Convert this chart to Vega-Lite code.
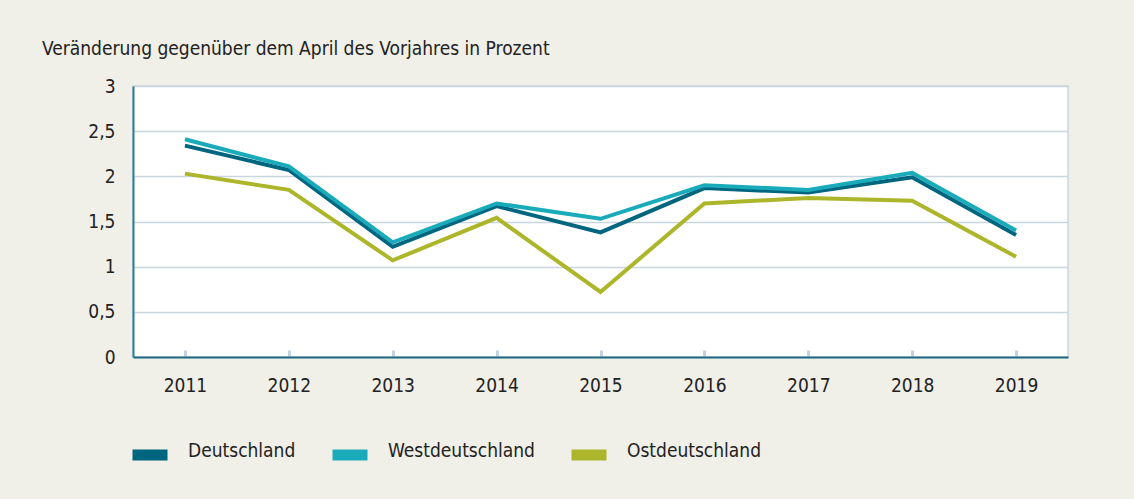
{
  "$schema": "https://vega.github.io/schema/vega-lite/v6.json",
  "width": 935,
  "height": 271,
  "autosize": "none",
  "padding": {"left": 133, "top": 86, "right": 66, "bottom": 142},
  "background": "#f0efe8",
  "title": {
    "text": "Veränderung gegenüber dem April des Vorjahres in Prozent",
    "anchor": "start",
    "frame": "group",
    "dx": -91,
    "offset": 18,
    "fontSize": 19,
    "fontWeight": "normal",
    "font": "DejaVu Sans Condensed, sans-serif",
    "color": "#222222"
  },
  "config": {
    "font": "DejaVu Sans Condensed, sans-serif",
    "view": {"fill": "white", "stroke": "#c9d6e0", "strokeWidth": 1.5},
    "axis": {"labelFontSize": 19, "labelColor": "#222222", "labelFont": "DejaVu Sans Condensed, sans-serif"},
    "legend": {"labelFontSize": 19, "labelColor": "#222222", "labelFont": "DejaVu Sans Condensed, sans-serif"}
  },
  "data": {
    "values": [
      {"year": "2011", "series": "Deutschland", "value": 2.34},
      {"year": "2012", "series": "Deutschland", "value": 2.07},
      {"year": "2013", "series": "Deutschland", "value": 1.22},
      {"year": "2014", "series": "Deutschland", "value": 1.67},
      {"year": "2015", "series": "Deutschland", "value": 1.38},
      {"year": "2016", "series": "Deutschland", "value": 1.87},
      {"year": "2017", "series": "Deutschland", "value": 1.82},
      {"year": "2018", "series": "Deutschland", "value": 1.99},
      {"year": "2019", "series": "Deutschland", "value": 1.35},
      {"year": "2011", "series": "Westdeutschland", "value": 2.41},
      {"year": "2012", "series": "Westdeutschland", "value": 2.11},
      {"year": "2013", "series": "Westdeutschland", "value": 1.27},
      {"year": "2014", "series": "Westdeutschland", "value": 1.70},
      {"year": "2015", "series": "Westdeutschland", "value": 1.53},
      {"year": "2016", "series": "Westdeutschland", "value": 1.90},
      {"year": "2017", "series": "Westdeutschland", "value": 1.85},
      {"year": "2018", "series": "Westdeutschland", "value": 2.04},
      {"year": "2019", "series": "Westdeutschland", "value": 1.40},
      {"year": "2011", "series": "Ostdeutschland", "value": 2.03},
      {"year": "2012", "series": "Ostdeutschland", "value": 1.85},
      {"year": "2013", "series": "Ostdeutschland", "value": 1.07},
      {"year": "2014", "series": "Ostdeutschland", "value": 1.54},
      {"year": "2015", "series": "Ostdeutschland", "value": 0.72},
      {"year": "2016", "series": "Ostdeutschland", "value": 1.70},
      {"year": "2017", "series": "Ostdeutschland", "value": 1.76},
      {"year": "2018", "series": "Ostdeutschland", "value": 1.73},
      {"year": "2019", "series": "Ostdeutschland", "value": 1.11}
    ]
  },
  "mark": {"type": "line", "strokeWidth": 4, "strokeJoin": "miter"},
  "encoding": {
    "x": {
      "field": "year",
      "type": "ordinal",
      "scale": {"type": "point", "padding": 0.5},
      "axis": {
        "title": null,
        "labelAngle": 0,
        "domainColor": "#1f6a82",
        "domainWidth": 2,
        "grid": false,
        "tickColor": "#c4d3df",
        "tickSize": -7,
        "tickWidth": 3,
        "labelPadding": 26
      }
    },
    "y": {
      "field": "value",
      "type": "quantitative",
      "scale": {"domain": [0, 3], "nice": false},
      "axis": {
        "title": null,
        "values": [0, 0.5, 1, 1.5, 2, 2.5, 3],
        "labelExpr": "replace(format(datum.value, '~g'), '.', ',')",
        "ticks": false,
        "domainColor": "#2a7d95",
        "domainWidth": 2,
        "grid": true,
        "gridColor": "#c9d6e0",
        "gridWidth": 1.5,
        "labelPadding": 18
      }
    },
    "color": {
      "field": "series",
      "type": "nominal",
      "scale": {
        "domain": ["Deutschland", "Westdeutschland", "Ostdeutschland"],
        "range": ["#006680", "#1aabbb", "#adb52a"]
      },
      "legend": {
        "title": null,
        "orient": "none",
        "direction": "horizontal",
        "legendX": -6,
        "legendY": 346,
        "padding": 0,
        "symbolType": "M-1,0H1",
        "symbolSize": 1225,
        "symbolStrokeWidth": 11,
        "labelOffset": 15,
        "columnPadding": 14,
        "encode": {"labels": {"update": {"dy": {"value": -4}}}}
      }
    }
  }
}
